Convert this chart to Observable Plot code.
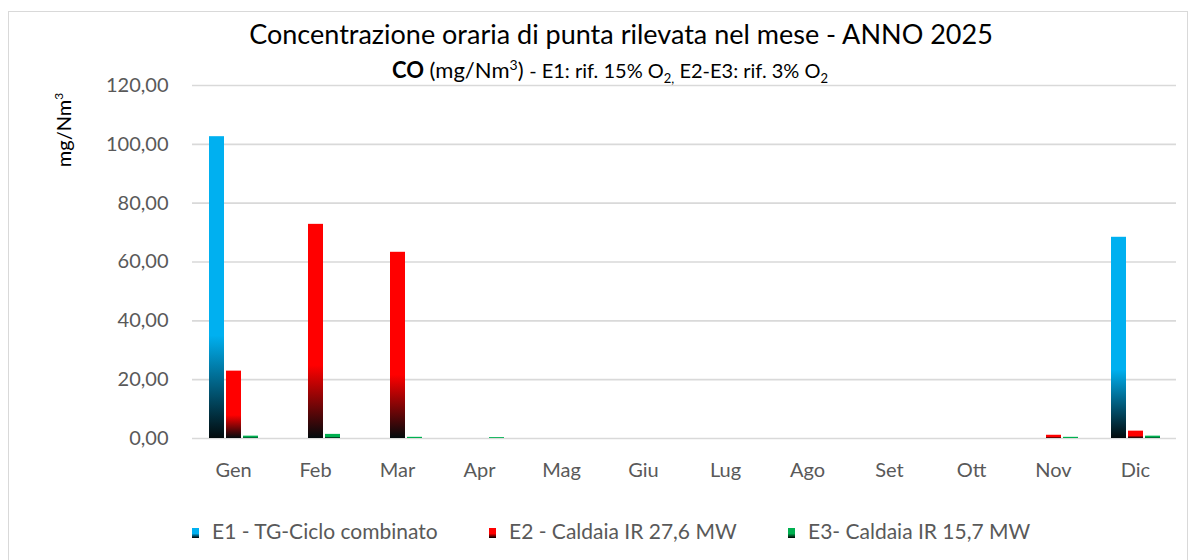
<!DOCTYPE html>
<html>
<head>
<meta charset="utf-8">
<script src="https://cdn.jsdelivr.net/npm/d3@7"></script>
<script src="https://cdn.jsdelivr.net/npm/@observablehq/plot@0.6"></script>
<style>
  html, body { margin: 0; padding: 0; background: #fff; }
  #wrap { position: relative; width: 1194px; height: 560px; overflow: hidden; font-family: Lato, "Open Sans", sans-serif; }
  #frame { position: absolute; left: 8px; top: 11px; width: 1180px; height: 600px; border: 1px solid #d9d9d9; box-sizing: border-box; }
  #chart { position: absolute; left: 0; top: 0; }
  .title1 { position: absolute; left: 0; width: 1242px; top: 17px; text-align: center; font-size: 27px; color: #000; white-space: nowrap; }
  .title2 { position: absolute; left: 0; width: 1220px; top: 56px; text-align: center; font-size: 22px; color: #000; white-space: nowrap; }
  .title2 .small { font-size: 20px; }
  .title2 sub { font-size: 13px; }
  .title2 sup { font-size: 14px; }
  .ylab { position: absolute; left: 63px; top: 130px; transform: translate(-50%, -50%) rotate(-90deg); font-size: 20px; color: #000; white-space: nowrap; }
  .ylab sup { font-size: 12px; }
  .leg { position: absolute; top: 518px; font-size: 21px; color: #595959; white-space: nowrap; display: flex; align-items: center; }
  .leg .sw { display: inline-block; width: 7px; height: 10px; margin-right: 13px; margin-top: 5px; }
</style>
</head>
<body>
<div id="wrap">
  <div id="frame"></div>
  <div id="chart"></div>
  <div class="title1">Concentrazione oraria di punta rilevata nel mese - ANNO 2025</div>
  <div class="title2"><b>CO</b> (mg/Nm<sup>3</sup>) <span class="small">- E1: rif. 15% O<sub>2,</sub> E2-E3: rif. 3% O<sub>2</sub></span></div>
  <div class="ylab">mg/Nm<sup>3</sup></div>
  <div id="legend"></div>
</div>
<script>
const months = ["Gen","Feb","Mar","Apr","Mag","Giu","Lug","Ago","Set","Ott","Nov","Dic"];
const seriesNames = ["E1 - TG-Ciclo combinato", "E2 - Caldaia IR 27,6 MW", "E3- Caldaia IR 15,7 MW"];
const seriesColors = ["#00B0F0", "#FF0000", "#00B050"];
const e1Values = [102.6, 0, 0, 0, 0, 0, 0, 0, 0, 0, 0, 68.4];
const e2Values = [22.9, 72.8, 63.3, 0, 0, 0, 0, 0, 0, 0, 1.1, 2.5];
const e3Values = [0.8, 1.4, 0.4, 0.3, 0, 0, 0, 0, 0, 0, 0.4, 0.8];
const yTicks = [0, 20, 40, 60, 80, 100, 120];

const allValues = [e1Values, e2Values, e3Values];
const data = [];
months.forEach((m, i) => {
  seriesNames.forEach((s, j) => data.push({month: m, series: s, value: allValues[j][i]}));
});
const gradIds = seriesNames.map((s, j) => "grad" + j);

const fmt = d => d3.format(".2f")(d).replace(".", ",");

const chart = Plot.plot({
  width: 1194,
  height: 560,
  marginLeft: 191,
  marginRight: 17,
  marginTop: 85,
  marginBottom: 122,
  style: {fontFamily: "Lato, sans-serif", fontSize: "20px", color: "#595959", background: "transparent"},
  fx: {domain: months, padding: 0, label: null, tickSize: 0, tickPadding: 24},
  x: {domain: seriesNames, paddingInner: 0.14, paddingOuter: 0.85, axis: null},
  y: {domain: [0, 120], ticks: yTicks, tickFormat: fmt, tickSize: 0, tickPadding: 24, label: null},
  color: {domain: seriesNames, range: gradIds.map(id => `url(#${id})`)},
  marks: [
    Plot.gridY(yTicks, {stroke: "#d9d9d9", strokeOpacity: 1, strokeWidth: 1.6}),
    Plot.barY(data, {fx: "month", x: "series", y: "value", fill: "series"})
  ]
});

const defs = d3.select(chart).insert("defs", ":first-child");
seriesColors.forEach((c, j) => {
  const g = defs.append("linearGradient").attr("id", gradIds[j])
    .attr("x1", 0).attr("y1", 0).attr("x2", 0).attr("y2", 1);
  g.append("stop").attr("offset", "0").attr("stop-color", c);
  g.append("stop").attr("offset", "0.66").attr("stop-color", c);
  g.append("stop").attr("offset", "1").attr("stop-color", "#020a0c");
});
document.getElementById("chart").appendChild(chart);

const legendLefts = [192, 489, 788];
const legend = document.getElementById("legend");
seriesNames.forEach((s, j) => {
  const item = document.createElement("div");
  item.className = "leg";
  item.style.left = legendLefts[j] + "px";
  item.innerHTML = `<span class="sw" style="background:linear-gradient(to bottom, ${seriesColors[j]} 0%, ${seriesColors[j]} 55%, #000 100%)"></span>${s}`;
  legend.appendChild(item);
});
</script>
</body>
</html>
